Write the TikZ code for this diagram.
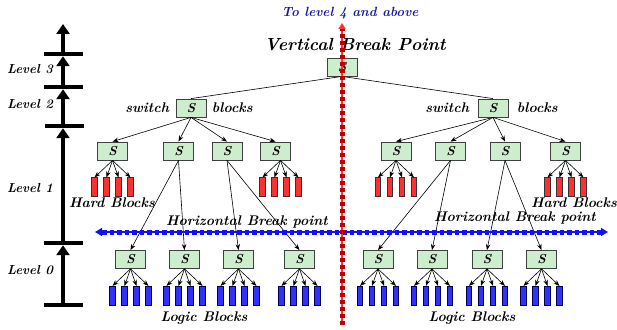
\documentclass[tikz,border=0pt]{standalone}
\usetikzlibrary{arrows.meta,positioning}

\definecolor{swfill}{HTML}{CCEECC}
\definecolor{hardfill}{HTML}{FF3030}
\definecolor{logicfill}{HTML}{3030FF}
\definecolor{vbreak}{HTML}{C00000}
\definecolor{hbreak}{HTML}{1010FF}
\definecolor{navy}{HTML}{1A1AA0}

\tikzset{
  sw/.style={draw=black!75,fill=swfill,line width=0.8pt,minimum width=30pt,minimum height=18pt,inner sep=0pt,font=\fontsize{13}{13}\selectfont\bfseries\itshape},
  hard/.style={draw=black!80,fill=hardfill,line width=0.6pt,minimum width=5.5pt,minimum height=19pt,inner sep=0pt},
  logic/.style={hard,fill=logicfill,draw=black!70!blue},
  lbl/.style={font=\fontsize{14}{14}\selectfont\bfseries\itshape},
  lvl/.style={font=\fontsize{13}{13}\selectfont\bfseries\itshape},
  tick/.style={fill=black,minimum width=39pt,minimum height=4pt,inner sep=0pt},
  axis/.style={line width=4pt,-{Triangle[length=10pt,width=13pt]}},
  tree/.style={line width=0.6pt,-{Stealth[length=6pt,width=4.5pt]}},
  hline/.style={hbreak,line width=5pt,dash pattern=on 4.5pt off 3pt},
  vline/.style={vbreak,line width=5pt,dash pattern=on 4pt off 3pt},
}

\begin{document}
\begin{tikzpicture}[x=1pt,y=-1pt]
  \useasboundingbox (0,0) rectangle (617,329);

  % level axis
  \node[tick] (t0) at (63,305) {};
  \node[tick] (t1) at (63,243) {};
  \node[tick] (t2) at (64,126) {};
  \node[tick] (t3) at (63,87) {};
  \node[tick] (t4) at (63,54) {};
  \coordinate (ttop) at (63,24);
  \draw[axis] (t0.north) -- (t1.south -| t0.north);
  \draw[axis] (t1.north) -- (t2.south -| t1.north);
  \draw[axis] (t2.north -| t1.north) -- (t3.south);
  \draw[axis] (t3) -- (t4);
  \draw[axis] (t4) -- (ttop);
  \node[lvl] (lv3) at (30,69) {Level 3};
  \node[lvl] (lv2) at (30,104) {Level 2};
  \node[lvl] (lv1) at (30,188) {Level 1};
  \node[lvl] (lv0) at (30,270) {Level 0};

  % titles
  \node[text=navy,font=\fontsize{13.3}{13.3}\selectfont\bfseries\itshape] (up) at (350,13) {To level 4 and above};
  \node[font=\fontsize{17.5}{17.5}\selectfont\bfseries\itshape] (vbp) at (355,45) {Vertical Break Point};
  \node[lbl] (hbpa) at (247,222) {Horizontal Break point};
  \node[lbl] (hbpb) at (515,218) {Horizontal Break point};
  \node[lbl] (hba) at (112,203) {Hard Blocks};
  \node[lbl] (hbb) at (574,203) {Hard Blocks};
  \node[lbl] (lba) at (204,318) {Logic Blocks};
  \node[lbl] (lbb) at (472,318) {Logic Blocks};

  % switch tree
  \node[sw] (top) at (342,67) {S};
  \node[sw] (l2a) at (191,108) {S};
  \node[sw] (l2b) at (493,108) {S};
  \node[lbl,left=3pt of l2a] (swa) {switch};
  \node[lbl,right=2pt of l2a] (bla) {blocks};
  \node[lbl,left=5pt of l2b] (swb) {switch};
  \node[lbl,right=5pt of l2b] (blb) {blocks};

  \node[sw] (l1a1) at (112.5,151) {S};
  \node[sw] (l1a2) at (178.5,151) {S};
  \node[sw] (l1a3) at (227,151) {S};
  \node[sw] (l1a4) at (275.5,151) {S};
  \node[sw] (l1b1) at (396,151) {S};
  \node[sw] (l1b2) at (450.5,151) {S};
  \node[sw] (l1b3) at (505,151) {S};
  \node[sw] (l1b4) at (565.5,151) {S};

  \node[sw] (l0a1) at (130.5,259.5) {S};
  \node[sw] (l0a2) at (184.5,259.5) {S};
  \node[sw] (l0a3) at (238.5,259.5) {S};
  \node[sw] (l0a4) at (299.5,259.5) {S};
  \node[sw] (l0b1) at (378,259.5) {S};
  \node[sw] (l0b2) at (432,259.5) {S};
  \node[sw] (l0b3) at (487,259.5) {S};
  \node[sw] (l0b4) at (541.5,259.5) {S};

  \draw[line width=0.6pt] (top.south) -- (l2a.north);
  \draw[line width=0.6pt] (top.south) -- (l2b.north);
  \foreach \n in {1,2,3,4} {
    \draw[tree] (l2a.south) -- (l1a\n.north);
    \draw[tree] (l2b.south) -- (l1b\n.north);
  }
  \foreach \g in {a,b} {
    \draw[tree] (l1\g2.south) -- (l0\g1.north);
    \draw[tree] (l1\g2.south) -- (l0\g2.north);
    \draw[tree] (l1\g3.south) -- (l0\g3.north);
    \draw[tree] (l1\g3.south) -- (l0\g4.north);
  }

  % hard and logic blocks
  \foreach \p/\c in {l1a1/0,l1a4/5,l1b1/0,l1b4/0}
    \foreach \i/\dx in {1/-18,2/-6,3/6,4/18} {
      \node[hard,anchor=north] (\p-\i) at ([xshift={(\c+\dx)*1pt},yshift=-17pt]\p.south) {};
      \draw[tree] ([xshift=\c pt]\p.south) -- (\p-\i.north);
    }
  \foreach \p in {l0a1,l0a2,l0a3,l0a4,l0b1,l0b2,l0b3,l0b4}
    \foreach \i/\dx in {1/-18,2/-6,3/6,4/18} {
      \node[logic,anchor=north] (\p-\i) at ([xshift=\dx pt,yshift=-17pt]\p.south) {};
      \draw[tree] (\p.south) -- (\p-\i.north);
    }

  % break points
  \coordinate (hl) at (95,232);
  \coordinate (hr) at (608,232);
  \draw[hbreak,line width=1.5pt,{Triangle[length=7pt,width=8pt]}-{Triangle[length=7pt,width=8pt]}] (hl) -- (hr);
  \draw[hline,shorten <=7pt,shorten >=7pt] (hl) -- (hr);
  \coordinate (vb) at (342,325);
  \coordinate (vt) at (342,23);
  \draw[red!80,line width=1.5pt,-{Triangle[length=6pt,width=7pt]}] (vb) -- (vt);
  \draw[vline,shorten >=6pt] (vb) -- (vt);
\end{tikzpicture}
\end{document}
